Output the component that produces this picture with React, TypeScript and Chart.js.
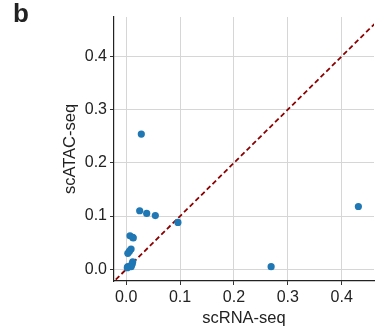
import React, { useEffect, useRef } from "react";
import { Chart, registerables } from "chart.js";

Chart.register(...registerables);

const SCRNA = [0.028, 0.431, 0.269, 0.025, 0.038, 0.054, 0.096, 0.007, 0.012, 0.013, 0.009, 0.006, 0.003, 0.012, 0.011, 0.010, 0.003, 0.009, 0.002];
const SCATAC = [0.254, 0.118, 0.005, 0.110, 0.105, 0.101, 0.088, 0.063, 0.060, 0.059, 0.038, 0.034, 0.030, 0.014, 0.010, 0.008, 0.005, 0.005, 0.003];
const TICKS = [0, 0.1, 0.2, 0.3, 0.4];
const X_RANGE = [-0.0227, 0.46];
const Y_RANGE = [-0.022, 0.474];
const DIAG = [-0.03, 0.5];

export default function App() {
  const ref = useRef<HTMLCanvasElement>(null);
  useEffect(() => {
    const points = SCRNA.map((x, i) => ({ x, y: SCATAC[i] }));
    const diag = DIAG.map((v) => ({ x: v, y: v }));
    const family = "'Liberation Sans', Arial, sans-serif";
    const tickFont = { family, size: 16 };
    const titleFont = { family, size: 16.5 };
    const chart = new Chart(ref.current!, {
      type: "scatter",
      data: {
        datasets: [
          {
            type: "line",
            data: diag,
            borderColor: "#8b0000",
            borderWidth: 1.8,
            borderDash: [5, 3],
            pointRadius: 0,
            fill: false,
            order: 1,
          } as any,
          {
            data: points,
            backgroundColor: "#1f77b4",
            borderColor: "#1f77b4",
            borderWidth: 0,
            pointRadius: 3.6,
            order: 0,
          },
        ],
      },
      options: {
        animation: false,
        responsive: false,
        layout: { padding: { top: 17, right: 0, left: 0, bottom: 0 } },
        plugins: { legend: { display: false }, tooltip: { enabled: false } },
        scales: {
          x: {
            type: "linear",
            min: X_RANGE[0],
            max: X_RANGE[1],
            afterBuildTicks: (s: any) => {
              s.ticks = TICKS.map((value) => ({ value }));
            },
            afterFit: (s: any) => {
              s.height = 53;
            },
            ticks: {
              font: tickFont,
              color: "#222",
              padding: 3,
              maxRotation: 0,
              callback: (v: any) => Number(v).toFixed(1),
            },
            grid: { color: "#d6d6d6", lineWidth: 1, tickLength: 4, tickColor: "#333" },
            border: { color: "#222", width: 1.2 },
            title: {
              display: true,
              text: "scRNA-seq",
              font: titleFont,
              color: "#222",
              padding: { top: 0, bottom: 6 },
            },
          },
          y: {
            type: "linear",
            min: Y_RANGE[0],
            max: Y_RANGE[1],
            afterBuildTicks: (s: any) => {
              s.ticks = TICKS.map((value) => ({ value }));
            },
            afterFit: (s: any) => {
              s.width = 114;
            },
            ticks: {
              font: tickFont,
              color: "#222",
              padding: 3,
              callback: (v: any) => Number(v).toFixed(1),
            },
            grid: { color: "#d6d6d6", lineWidth: 1, tickLength: 4, tickColor: "#333" },
            border: { color: "#222", width: 1.2 },
            title: {
              display: true,
              text: "scATAC-seq",
              font: titleFont,
              color: "#222",
              padding: { top: 61, bottom: 0 },
            },
          },
        },
      },
    });
    return () => chart.destroy();
  }, []);
  return (
    <div style={{ position: "absolute", left: 0, top: 0, width: 378, height: 334, background: "#fff" }}>
      <canvas ref={ref} width={378} height={334} style={{ display: "block" }} />
      <div
        style={{
          position: "absolute",
          left: 13,
          top: -1,
          fontFamily: "'Liberation Sans', Arial, sans-serif",
          fontWeight: "bold",
          fontSize: 26,
          color: "#222",
          lineHeight: "28px",
        }}
      >
        b
      </div>
    </div>
  );
}
